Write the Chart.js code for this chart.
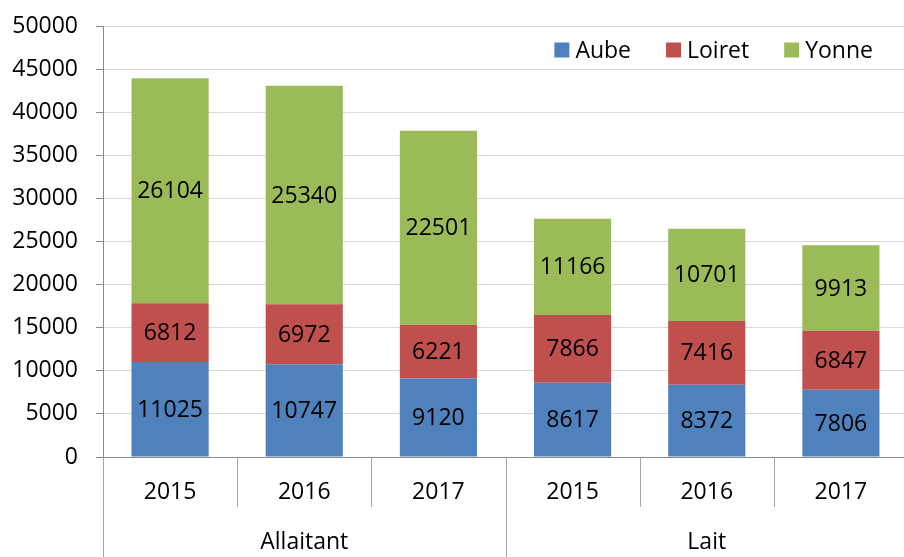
<!DOCTYPE html>
<html><head><meta charset="utf-8">
<script src="https://cdn.jsdelivr.net/npm/chart.js@4/dist/chart.umd.min.js"></script>
<style>html,body{margin:0;padding:0;overflow:hidden;background:#fff}</style>
</head><body>
<canvas id="c" width="908" height="557" style="display:block;width:908px;height:557px"></canvas>
<script>
const years = ['2015','2016','2017','2015','2016','2017'];
const groups = ['Allaitant','Lait'];
const groupSizes = [3,3];
const aube = [11025,10747,9120,8617,8372,7806];
const loiret = [6812,6972,6221,7866,7416,6847];
const yonne = [26104,25340,22501,11166,10701,9913];
const yMax = 50000, yStep = 5000;

const FONT = '"Open Sans", "Liberation Sans", sans-serif';
const FS = 23;

const sepPlugin = {
  id: 'sep',
  afterDraw(chart) {
    const x = chart.scales.x, ctx = chart.ctx, area = chart.chartArea;
    const n = years.length;
    const w = (x.right - x.left) / n;
    const groupBounds = new Set([0]);
    let acc = 0; groupSizes.forEach(s => { acc += s; groupBounds.add(acc); });
    ctx.save();
    ctx.strokeStyle = '#a6a6a6'; ctx.lineWidth = 1;
    for (let i = 0; i <= n; i++) {
      const px = Math.round(x.left + i * w) + 0.5;
      const bottom = groupBounds.has(i) ? chart.height : x.bottom;
      ctx.beginPath(); ctx.moveTo(px, area.bottom); ctx.lineTo(px, bottom); ctx.stroke();
    }
    ctx.restore();
  }
};

const labelPlugin = {
  id: 'vals',
  afterDatasetsDraw(chart) {
    const ctx = chart.ctx;
    ctx.save();
    ctx.font = FS + 'px ' + FONT;
    ctx.fillStyle = '#000';
    ctx.textAlign = 'center'; ctx.textBaseline = 'middle';
    chart.data.datasets.forEach((ds, di) => {
      const meta = chart.getDatasetMeta(di);
      meta.data.forEach((el, i) => {
        const p = el.getProps(['x', 'y', 'base'], true);
        ctx.fillText(String(ds.data[i]), p.x, (p.y + p.base) / 2 + 1);
      });
    });
    ctx.restore();
  }
};

const legendPlugin = {
  id: 'leg',
  afterDraw(chart) {
    const ctx = chart.ctx, area = chart.chartArea;
    ctx.save();
    ctx.font = FS + 'px ' + FONT;
    ctx.textBaseline = 'middle'; ctx.textAlign = 'left';
    const box = 15, gap = 6, spacing = 35;
    const items = chart.data.datasets.map(d => ({label: d.label, color: d.backgroundColor, w: ctx.measureText(d.label).width}));
    let total = 0;
    items.forEach((it, k) => { total += box + gap + it.w + (k < items.length - 1 ? spacing : 0); });
    let xx = area.right - 35 - total;
    const cy = area.top + 24;
    items.forEach(it => {
      ctx.fillStyle = it.color;
      ctx.fillRect(xx, cy - box / 2, box, box);
      ctx.fillStyle = '#000';
      ctx.fillText(it.label, xx + box + gap, cy + 1);
      xx += box + gap + it.w + spacing;
    });
    ctx.restore();
  }
};

new Chart(document.getElementById('c'), {
  type: 'bar',
  data: {
    labels: years,
    datasets: [
      {label: 'Aube', data: aube, backgroundColor: '#4F81BD'},
      {label: 'Loiret', data: loiret, backgroundColor: '#C0504D'},
      {label: 'Yonne', data: yonne, backgroundColor: '#9BBB59'}
    ]
  },
  options: {
    responsive: false,
    animation: false,
    devicePixelRatio: 1,
    layout: {padding: {top: 26, left: 0, right: 0, bottom: 0}},
    datasets: {bar: {barPercentage: 0.575, categoryPercentage: 1}},
    plugins: {legend: {display: false}, tooltip: {enabled: false}},
    scales: {
      x: {
        stacked: true,
        offset: true,
        grid: {display: false, drawTicks: false},
        border: {display: true, color: '#898989', width: 1},
        ticks: {color: '#000', font: {family: FONT, size: FS}, padding: 22, maxRotation: 0, autoSkip: false},
        afterFit(s) { s.height = 50; }
      },
      x2: {
        type: 'category',
        labels: groups,
        position: 'bottom',
        offset: true,
        grid: {display: false, drawTicks: false},
        border: {display: false},
        ticks: {color: '#000', font: {family: FONT, size: FS}, padding: 22, maxRotation: 0, autoSkip: false},
        afterFit(s) { s.height = 50; }
      },
      y: {
        stacked: true,
        min: 0, max: yMax,
        grid: {color: '#d9d9d9', tickColor: '#898989', tickLength: 7, lineWidth: 1},
        border: {display: true, color: '#898989', width: 1},
        ticks: {stepSize: yStep, color: '#000', font: {family: FONT, size: FS, lineHeight: 0.6}, padding: 18, callback: v => String(v)},
        afterFit(s) { s.width = 103; }
      }
    }
  },
  plugins: [sepPlugin, labelPlugin, legendPlugin]
});
</script>
</body></html>
